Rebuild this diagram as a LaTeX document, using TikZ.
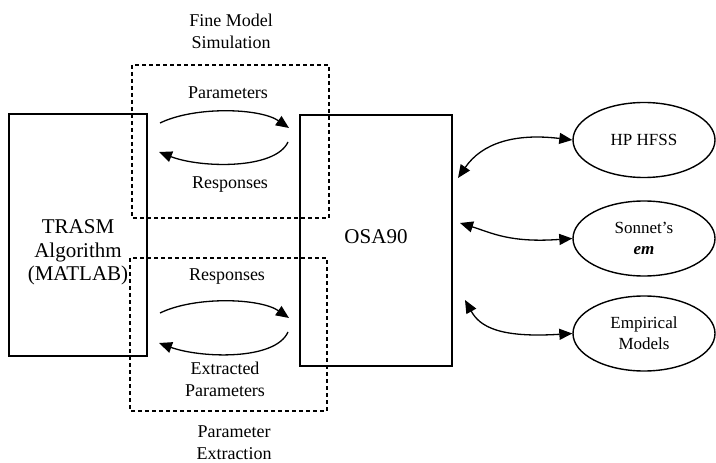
\documentclass[tikz,border=0pt]{standalone}
\usepackage{fontspec}
\setmainfont{Liberation Serif}
\usetikzlibrary{shapes.geometric,arrows.meta}

\begin{document}
\begin{tikzpicture}[x=1bp,y=-1bp,line width=1.4bp,
    blk/.style={draw,inner sep=0pt},
    blktxt/.style={inner sep=0pt,font=\fontsize{21bp}{23.5bp}\selectfont,align=center},
    simbox/.style={draw,dash pattern=on 4bp off 3bp,line width=1.3bp},
    tool/.style={draw,ellipse,minimum width=142bp,minimum height=75bp,inner sep=0pt,
                 font=\fontsize{17bp}{21bp}\selectfont,align=center},
    lbl/.style={inner sep=0pt,font=\fontsize{18bp}{22bp}\selectfont,align=center},
    link/.style={line width=1.3bp,-{Triangle[length=13bp,width=11bp]}},
    dlink/.style={line width=1.3bp,{Triangle[length=13bp,width=11bp]}-{Triangle[length=13bp,width=11bp]}}]
    \useasboundingbox (0,0) rectangle (716,463);

    % main blocks
    \node[blk,minimum width=138bp,minimum height=242bp] (trasm) at (78,235) {};
    \node[blktxt] (trasmtxt) at (78,252.5) {TRASM\\Algorithm\\(MATLAB)};
    \node[blk,minimum width=152bp,minimum height=251bp] (osa) at (376,240.5) {};
    \node[blktxt] (osatxt) at (376,237) {OSA90};

    % dashed boxes
    \draw[simbox] (132,65) rectangle (329,218);
    \draw[simbox] (130,258) rectangle (327,411);

    % labels
    \node[lbl] (fms)   at (231,31)  {Fine Model\\Simulation};
    \node[lbl] (par1)  at (228,93)  {Parameters};
    \node[lbl] (res1)  at (230,185) {Responses};
    \node[lbl] (res2)  at (227,277) {Responses};
    \node[lbl] (epar)  at (225,379.5) {Extracted\\Parameters};
    \node[lbl] (pext)  at (234,443) {Parameter\\Extraction};

    % simulators
    \node[tool] (hfss)   at (644,140) {HP HFSS};
    \node[tool] (sonnet) at (644,238.5) {Sonnet’s\\\textbf{\textit{em}}};
    \node[tool] (emp)    at (644,333.5) {Empirical\\Models};

    % loose arrow ends
    \coordinate (a1) at (160,123);  \coordinate (b1) at (289,128);
    \coordinate (a2) at (288,142);  \coordinate (b2) at (159,152);
    \coordinate (a3) at (160,313);  \coordinate (b3) at (289,318);
    \coordinate (a4) at (288,332);  \coordinate (b4) at (159,343);
    \coordinate (o1) at (458,178);
    \coordinate (o2) at (460,223);
    \coordinate (o3) at (465,300);

    \draw[link] (a1) .. controls (195,106) and (260,108) .. (b1);
    \draw[link] (a2) .. controls (275,170) and (200,168) .. (b2);
    \draw[link] (a3) .. controls (195,296) and (260,298) .. (b3);
    \draw[link] (a4) .. controls (275,361) and (200,358) .. (b4);

    \draw[dlink] (o1) .. controls (482,143) and (515,133) .. (hfss.west);
    \draw[dlink] (o2) .. controls (492,233) and (510,243) .. (sonnet.west);
    \draw[dlink] (o3) .. controls (480,327) and (500,338) .. (emp.west);
\end{tikzpicture}
\end{document}
